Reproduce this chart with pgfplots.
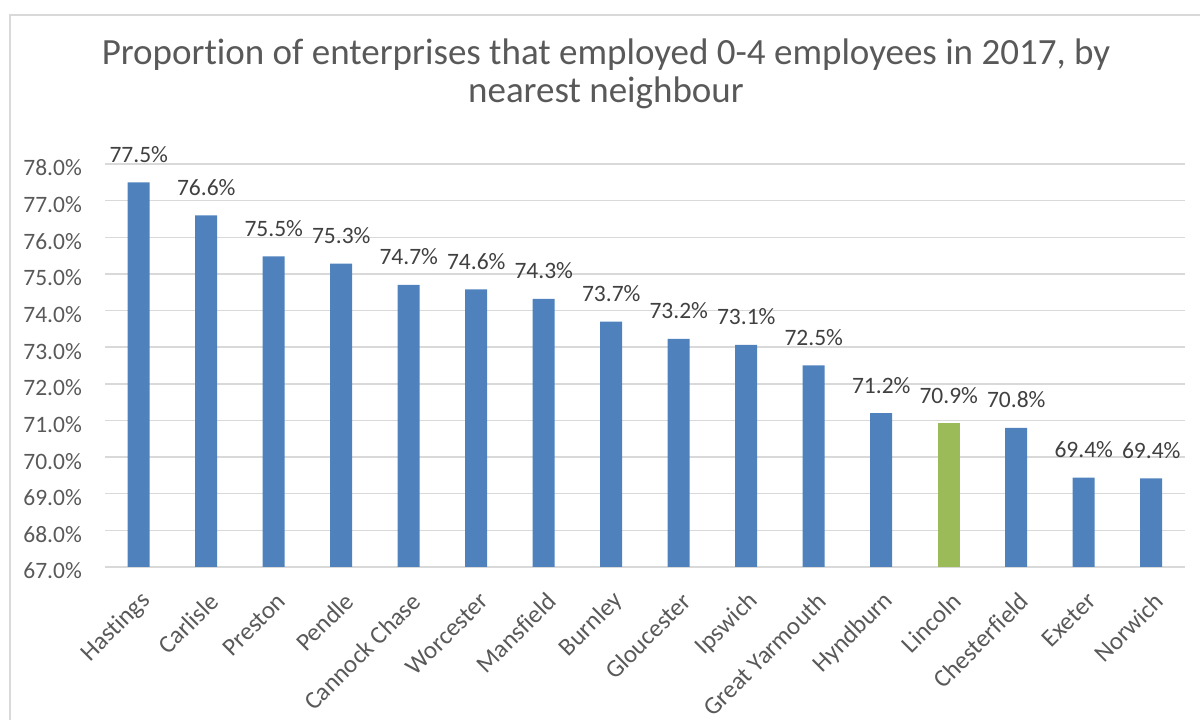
\documentclass[border=0pt]{standalone}
\usepackage{pgfplots}
\pgfplotsset{compat=1.18}
\usepackage{fontspec}
\setmainfont{Carlito}[Ligatures=NoCommon]
\definecolor{barblue}{HTML}{4F81BD}
\definecolor{bargreen}{HTML}{9BBB59}
\definecolor{txt}{HTML}{595959}
\definecolor{lbl}{HTML}{404040}
\definecolor{gridc}{HTML}{D9D9D9}
\begin{document}
\begin{tikzpicture}[x=1pt,y=1pt]
\useasboundingbox (0,0) rectangle (1200,720);
\clip (0,0) rectangle (1200,720);
\draw[gridc, line width=1.5pt] (10,-20) rectangle (1220,705);
\node[txt, anchor=base, font=\fontsize{37}{44}\selectfont] at (606,655) {Proportion of enterprises that employed 0-4 employees in 2017, by};
\node[txt, anchor=base, font=\fontsize{37}{44}\selectfont] at (606,617) {nearest neighbour};
\begin{axis}[
  at={(105pt,153pt)}, anchor=south west,
  scale only axis, width=1080pt, height=403pt,
  xmin=-0.5, xmax=15.5, ymin=67, ymax=78,
  ytick={67,68,...,78},
  xtick={0,...,15},
  xticklabels={Hastings,Carlisle,Preston,Pendle,Cannock Chase,Worcester,Mansfield,Burnley,Gloucester,Ipswich,Great Yarmouth,Hyndburn,Lincoln,Chesterfield,Exeter,Norwich},
  /pgf/number format/assume math mode=true,
  yticklabel={\pgfmathprintnumber[fixed,fixed zerofill,precision=1]{\tick}\%},
  ticklabel style={text=txt},
  yticklabel style={font=\fontsize{23.5}{27}\selectfont, anchor=east, inner sep=0pt, xshift=-23pt, yshift=-4pt},
  xticklabel style={font=\fontsize{25}{29}\selectfont, rotate=45, anchor=east, inner sep=0pt, xshift=-15.6pt, yshift=-26.9pt},
  major tick length=0pt,
  axis line style={draw=none},
  ymajorgrids,
  grid style={draw=gridc, line width=1.5pt},
  ybar, bar width=22pt, bar shift=0pt,
  nodes near coords={\pgfmathprintnumber[fixed,fixed zerofill,precision=1]{\pgfplotspointmeta}\%},
  every node near coord/.append style={anchor=base, yshift=20pt, inner sep=0pt, text=lbl, font=\fontsize{23.5}{27}\selectfont},
  clip=false,
]
\addplot[fill=barblue, draw=none] coordinates {
 (0,77.5) (1,76.6) (2,75.48) (3,75.28) (4,74.7) (5,74.58) (6,74.32) (7,73.7) (8,73.23) (9,73.06) (10,72.5) (11,71.2) (13,70.8) (14,69.44) (15,69.42)};
\addplot[fill=bargreen, draw=none] coordinates {(12,70.93)};
\end{axis}
\end{tikzpicture}
\end{document}
